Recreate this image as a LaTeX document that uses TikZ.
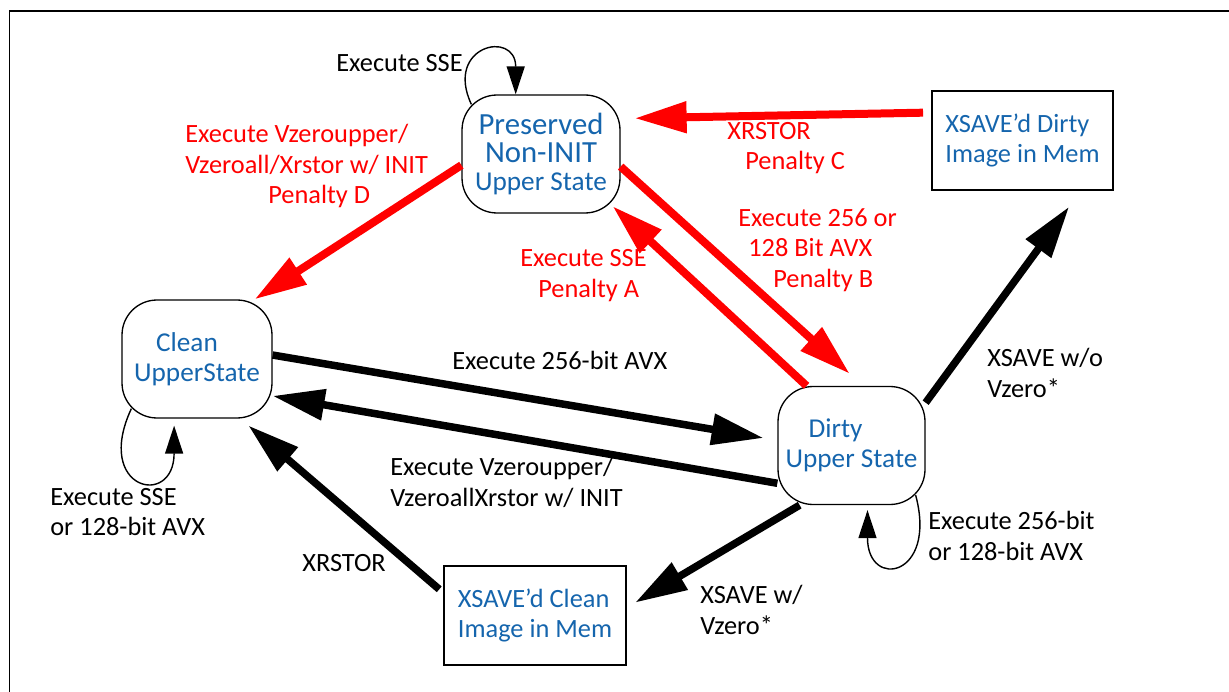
\documentclass[tikz,border=0pt]{standalone}
\usepackage{fontspec}
\setmainfont{Carlito}
\usetikzlibrary{arrows.meta}
\definecolor{StateBlue}{RGB}{21,101,173}
\definecolor{PenaltyRed}{RGB}{255,0,0}
\newcommand{\lblfont}{\fontsize{15}{17.5}\selectfont}

\begin{document}
\begin{tikzpicture}[x=0.02cm, y=-0.02cm, font=\lblfont,
    every node/.style={align=center},
    state/.style={draw, line width=0.75pt, rounded corners=0.7cm, text=StateBlue,
      minimum width=3cm, minimum height=2.36cm, font=\fontsize{15.5}{17}\selectfont},
    memimg/.style={draw, line width=0.04cm, text=StateBlue, align=left,
      minimum width=3.62cm, minimum height=1.98cm, font=\fontsize{15}{17.5}\selectfont},
    redarrow/.style={-{Triangle[length=1.04cm,width=0.6cm]}, line width=0.16cm, PenaltyRed},
    blkarrow/.style={-{Triangle[length=1.04cm,width=0.6cm]}, line width=0.15cm},
    selfloop/.style={-{Triangle[length=0.56cm,width=0.36cm]}, line width=0.8pt},
    lbl/.style={anchor=west, inner sep=0pt, align=left}]
  \useasboundingbox (0,0) rectangle (1229,692);
  \draw[line width=0.04cm] (9.5,692) -- (9.5,11) -- (1229,11);

  % states
  \node[state, minimum width=3.16cm, font=\fontsize{17.5}{16}\selectfont] (pres) at (541,154)
       {Preserved\\Non-INIT\\{\fontsize{15.5}{16}\selectfont Upper State}};
  \node[state] (clean) at (197,359) {Clean\hspace*{0.4cm}\\UpperState};
  \node[state, minimum width=2.94cm] (dirty) at (851.5,445.5) {Dirty\hspace*{0.64cm}\\Upper State};
  \node[memimg] (memdirty) at (1022.5,140.5) {XSAVE’d Dirty\\Image in Mem};
  \node[memimg, minimum width=3.64cm] (memclean) at (535,615.5) {XSAVE’d Clean\\Image in Mem};

  % red transitions
  \draw[redarrow] (pres.188) -- (clean.46);
  \draw[redarrow, shorten <=0.16cm, shorten >=0.28cm] (memdirty.163) -- (pres.24);
  \draw[redarrow, shorten >=0.36cm] (pres.-9) -- (dirty.79);
  \draw[redarrow, shorten >=-0.22cm] (dirty.127) -- (pres.south east);
  \node[lbl, text=PenaltyRed] (lblD) at (185,166)
       {Execute Vzeroupper/\\Vzeroall/Xrstor w/ INIT\\\hspace*{1.66cm}Penalty D};
  \node[lbl, text=PenaltyRed] (lblC) at (727,148) {XRSTOR\\\hspace*{0.36cm}Penalty C};
  \node[lbl, text=PenaltyRed] (lblA) at (520,275.5) {Execute SSE\\\hspace*{0.36cm}Penalty A};
  \node[lbl, text=PenaltyRed] (lblB) at (738,250)
       {Execute 256 or\\\hspace*{0.2cm}128 Bit AVX\\\hspace*{0.7cm}Penalty B};

  % black transitions
  \draw[blkarrow, shorten >=0.28cm] (clean.3) -- (dirty.176);
  \draw[blkarrow] (dirty.207) -- (clean.-26);
  \draw[blkarrow, shorten <=0.1cm, shorten >=0.21cm] (memclean.166) -- (clean.-54);
  \draw[blkarrow, shorten >=0.19cm] (dirty.-131) -- (memclean.5);
  \draw[blkarrow, shorten >=0.39cm] (dirty.30) -- (memdirty.-41);
  \node[lbl] (lbl256) at (452,360) {Execute 256-bit AVX};
  \node[lbl] (lblvz) at (390,482.5) {Execute Vzeroupper/\\VzeroallXrstor w/ INIT};
  \node[lbl] (lblxr) at (302,563) {XRSTOR};
  \node[lbl] (lblwz) at (700,610) {XSAVE w/\\Vzero*};
  \node[lbl] (lblwoz) at (987,373) {XSAVE w/o\\Vzero*};

  % self loops
  \draw[selfloop] ([shift={(10,10)}]pres.north west)
       .. controls +(115:1.3cm) and +(90:1.3cm) .. (pres.113);
  \draw[selfloop, shorten >=0.14cm] ([shift={(10,-10)}]clean.south west)
       .. controls +(245:1.8cm) and +(270:1.8cm) .. (clean.249);
  \draw[selfloop, shorten >=0.1cm] ([shift={(-10,-10)}]dirty.south east)
       .. controls +(-75:1.7cm) and +(270:1.7cm) .. (dirty.-75);
  \node[lbl] (lblsse) at (336,63) {Execute SSE};
  \node[lbl] (lblcl) at (50,512) {Execute SSE\\or 128-bit AVX};
  \node[lbl] (lbldl) at (928,536) {Execute 256-bit\\or 128-bit AVX};
\end{tikzpicture}
\end{document}
